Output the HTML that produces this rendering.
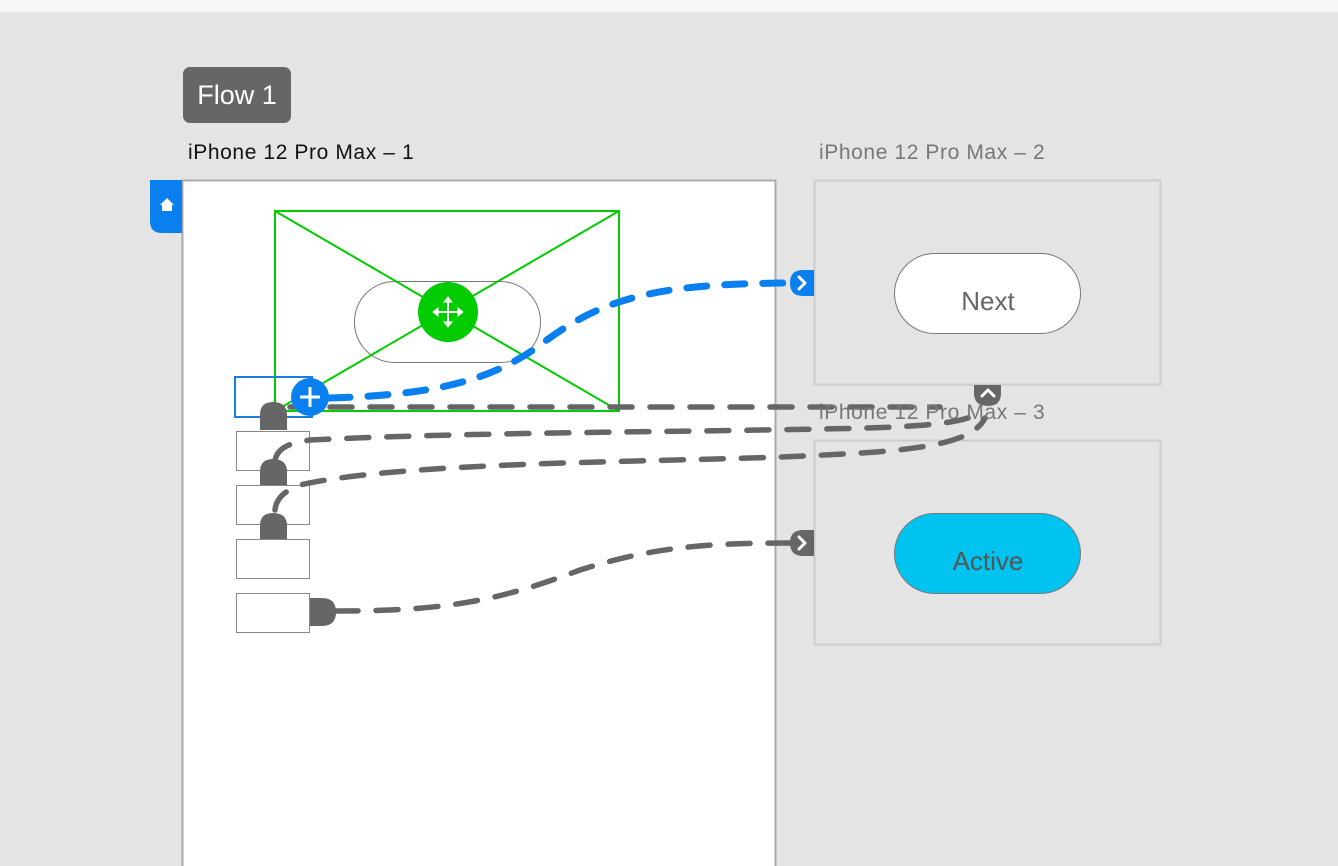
<!DOCTYPE html>
<html><head><meta charset="utf-8"><style>
html,body{margin:0;padding:0;width:1338px;height:866px;overflow:hidden;background:#e4e4e4;}
svg{display:block;font-family:"Liberation Sans",sans-serif;}
</style></head><body>
<svg width="1338" height="866" viewBox="0 0 1338 866">
<rect x="0" y="0" width="1338" height="12" fill="#f6f6f6"/>
<rect x="0" y="12" width="1338" height="854" fill="#e4e4e4"/>
<rect x="183" y="67" width="108" height="56" rx="7" fill="#666"/>
<text x="237" y="104" font-size="27" fill="#fff" text-anchor="middle">Flow 1</text>
<text x="188" y="159" font-size="21" letter-spacing="0.6" fill="#111">iPhone 12 Pro Max – 1</text>
<text x="819" y="159" font-size="21" letter-spacing="0.6" fill="#777">iPhone 12 Pro Max – 2</text>
<rect x="182.5" y="180.5" width="593" height="700" fill="#fff" stroke="#aaa" stroke-width="2"/>
<path d="M150,180 H182 V233 H162 Q150,233 150,221 Z" fill="#0a7ff0"/>
<path d="M160,205 L167,198 L174,205 H172 V211 H162 V205 Z" fill="#fff"/>
<rect x="814.5" y="180.5" width="346" height="204" fill="#e4e4e4" stroke="#ccc" stroke-width="2"/>
<rect x="894.5" y="253.5" width="186" height="80" rx="40" fill="#fff" stroke="#777"/>
<text x="988" y="310" font-size="26" fill="#666" text-anchor="middle">Next</text>
<rect x="814.5" y="440.5" width="346" height="204" fill="#e4e4e4" stroke="#ccc" stroke-width="2"/>
<rect x="894.5" y="513.5" width="186" height="80" rx="40" fill="#00c3f0" stroke="#777"/>
<text x="988" y="570" font-size="26" fill="#555" text-anchor="middle">Active</text>
<rect x="354.5" y="281.5" width="186" height="81" rx="40" fill="#fff" stroke="#777"/>
<rect x="275" y="211" width="344" height="200" fill="none" stroke="#00cc00" stroke-width="2"/>
<line x1="275" y1="211" x2="619" y2="411" stroke="#00cc00" stroke-width="2"/>
<line x1="619" y1="211" x2="275" y2="411" stroke="#00cc00" stroke-width="2"/>
<rect x="236.5" y="431.5" width="73" height="39" fill="#fff" stroke="#888"/>
<rect x="236.5" y="485.5" width="73" height="39" fill="#fff" stroke="#888"/>
<rect x="236.5" y="539.5" width="73" height="39" fill="#fff" stroke="#888"/>
<rect x="236.5" y="593.5" width="73" height="39" fill="#fff" stroke="#888"/>
<rect x="235" y="377" width="77" height="40" fill="none" stroke="#1a7ee0" stroke-width="2"/>
<g fill="#666">
<path d="M260,430 V415 Q260,402 273,402 Q287,402 287,415 V430 Z"/>
<path d="M260,485 V472 Q260,459 273,459 Q287,459 287,472 V485 Z"/>
<path d="M260,539 V526 Q260,513 273,513 Q287,513 287,526 V539 Z"/>
<path d="M310,598 H322 Q336,598 336,612 Q336,626 322,626 H310 Z"/>
<path d="M790,283 Q790,270 803,270 H814 V296 H803 Q790,296 790,283 Z" fill="#0a7ff0"/>
<path d="M790,543 Q790,530 803,530 H814 V556 H803 Q790,556 790,543 Z"/>
<path d="M974,385 H1001 V393 Q1001,406 988,406 Q974,406 974,393 Z"/>
</g>
<g fill="none" stroke="#666" stroke-width="5.5" stroke-linecap="round" stroke-dasharray="22 18">
<path d="M290,407 L940,407"/>
<path d="M275,460 C278,447 290,443 310,440 C450,433 650,432 760,430 C880,428 960,428 980,412"/>
<path d="M275,510 C276,500 282,492 300,485 C400,462 650,462 780,457 C900,452 970,448 985,418"/>
<path d="M336,611 C450,611 500,600 580,570 C650,548 700,543 790,543"/>
</g>
<text x="819" y="419" font-size="21" letter-spacing="0.6" fill="#777">iPhone 12 Pro Max – 3</text>
<path d="M330,398 C430,395 490,382 540,345 C600,300 650,283 795,283" fill="none" stroke="#0a7ff0" stroke-width="7" stroke-linecap="round" stroke-dasharray="20 18"/>
<g stroke="#fff" stroke-width="3" fill="none" stroke-linecap="round" stroke-linejoin="round">
<path d="M799,277 L805,283 L799,289"/>
<path d="M799,537 L805,543 L799,549"/>
<path d="M982,396 L988,390 L994,396"/>
</g>
<circle cx="448" cy="312" r="30" fill="#00cc00"/>
<g stroke="#fff" stroke-width="2" fill="#fff">
<line x1="433" y1="312" x2="463" y2="312"/><line x1="448" y1="297" x2="448" y2="327"/>
<path d="M433,312 l5,-4 v8z M463,312 l-5,-4 v8z M448,297 l-4,5 h8z M448,327 l-4,-5 h8z" stroke-width="1"/>
</g>
<circle cx="310" cy="397" r="19" fill="#0a7ff0"/>
<g stroke="#fff" stroke-width="3"><line x1="300" y1="397" x2="320" y2="397"/><line x1="310" y1="387" x2="310" y2="407"/></g>
</svg>
</body></html>
